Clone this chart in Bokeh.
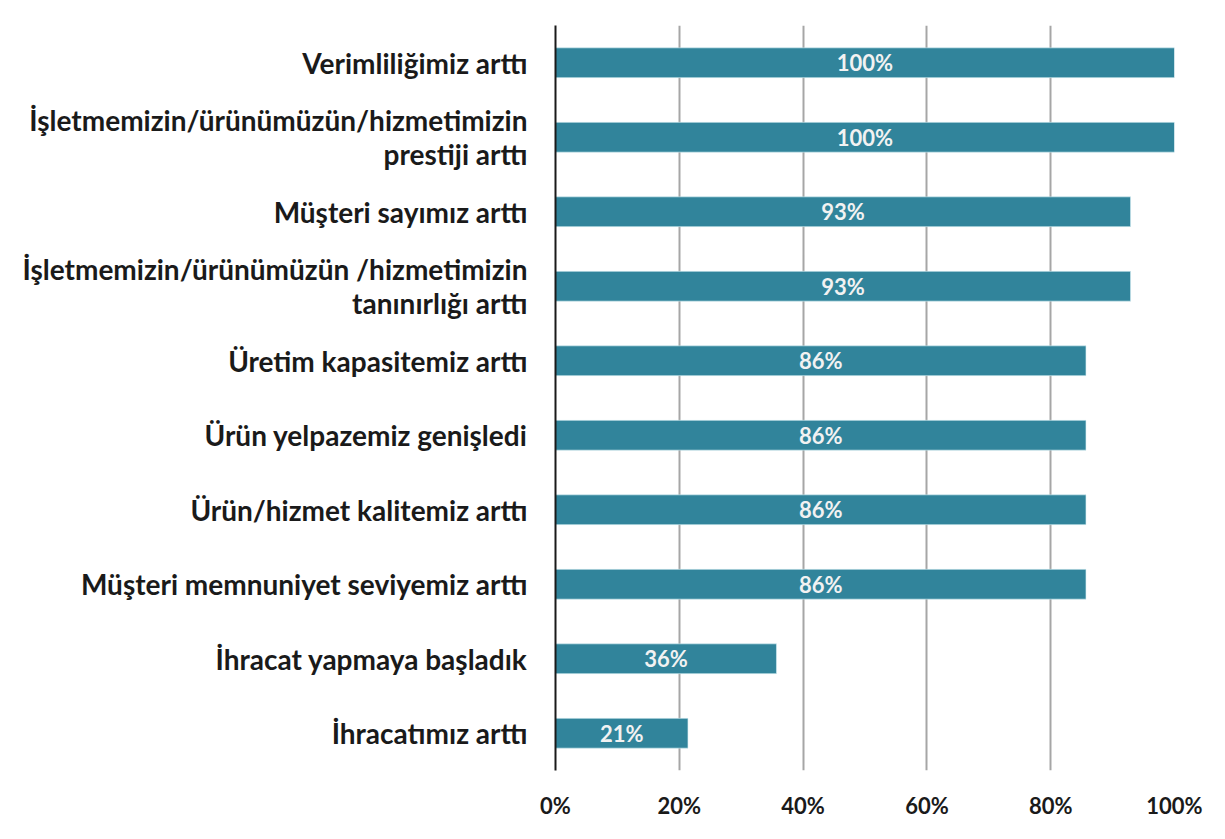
from bokeh.plotting import figure
from bokeh.models import FactorRange, ColumnDataSource, Range1d, FixedTicker, LabelSet, CustomJSTickFormatter
from bokeh.core.properties import value
from bokeh.embed import file_html
from bokeh.resources import INLINE

categories = [
    "Verimliliğimiz arttı",
    "İşletmemizin/ürünümüzün/hizmetimizin\nprestiji arttı",
    "Müşteri sayımız arttı",
    "İşletmemizin/ürünümüzün /hizmetimizin\ntanınırlığı arttı",
    "Üretim kapasitemiz arttı",
    "Ürün yelpazemiz genişledi",
    "Ürün/hizmet kalitemiz arttı",
    "Müşteri memnuniyet seviyemiz arttı",
    "İhracat yapmaya başladık",
    "İhracatımız arttı",
]
values = [100.0, 100.0, 92.9, 92.9, 85.7, 85.7, 85.7, 85.7, 35.7, 21.4]
value_labels = ["100%", "100%", "93%", "93%", "86%", "86%", "86%", "86%", "36%", "21%"]
x_ticks = [0, 20, 40, 60, 80, 100]

FONT = "Lato"
BAR = "#31849B"

src = ColumnDataSource(dict(
    cat=categories,
    val=values,
    mid=[v / 2 for v in values],
    lab=value_labels,
))

p = figure(
    y_range=FactorRange(factors=list(reversed(categories)), range_padding=0),
    x_range=Range1d(0, 100),
    frame_width=619, frame_height=745,
    min_border_left=555, min_border_right=43, min_border_top=25, min_border_bottom=61,
    output_backend="svg", toolbar_location=None,
    background_fill_color="white", border_fill_color="white",
)
p.outline_line_color = None

p.hbar(y="cat", left=0, right="val", height=0.4, source=src,
       fill_color=BAR, line_color="#d8eef3", line_width=0.6)

labels = LabelSet(x="mid", y="cat", text="lab", source=src,
                  text_align="center", text_baseline="middle",
                  text_color="#f2f2f2", text_font=value(FONT), text_font_style="bold",
                  text_font_size="22px")
p.add_layout(labels)

# x axis
p.xaxis.ticker = FixedTicker(ticks=x_ticks)
p.xaxis.formatter = CustomJSTickFormatter(code="return tick.toFixed(0) + '%';")
p.xaxis.axis_line_color = None
p.xaxis.major_tick_line_color = None
p.xaxis.minor_tick_line_color = None
p.xaxis.major_label_standoff = 15
p.xaxis.major_label_text_font = FONT
p.xaxis.major_label_text_font_style = "bold"
p.xaxis.major_label_text_font_size = "22px"
p.xaxis.major_label_text_color = "#1a1a1a"

# y axis
p.yaxis.axis_line_color = "#1a1a1a"
p.yaxis.axis_line_width = 2
p.yaxis.major_tick_line_color = None
p.yaxis.minor_tick_line_color = None
p.yaxis.major_label_standoff = 22
p.yaxis.major_label_text_font = FONT
p.yaxis.major_label_text_font_style = "bold"
p.yaxis.major_label_text_font_size = "28px"
p.yaxis.major_label_text_line_height = 1.0
p.yaxis.major_label_text_color = "#1a1a1a"
p.yaxis.major_label_text_align = "right"

p.xgrid.grid_line_color = "#a6a6a6"
p.xgrid.grid_line_width = 2
p.ygrid.grid_line_color = None

open("out.html", "w").write(file_html(p, INLINE))
